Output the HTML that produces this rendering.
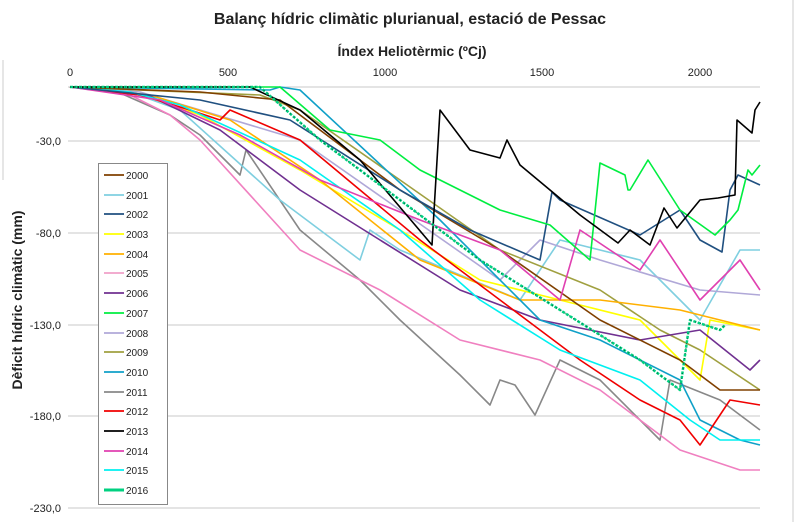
<!DOCTYPE html>
<html><head><meta charset="utf-8"><style>
body{margin:0;background:#fff;width:800px;height:522px;overflow:hidden;font-family:"Liberation Sans",sans-serif}
</style></head><body>
<svg width="800" height="522" viewBox="0 0 800 522" xmlns="http://www.w3.org/2000/svg" font-family="Liberation Sans, sans-serif">
<line x1="793" y1="0" x2="793" y2="522" stroke="#ccc"/>
<line x1="3" y1="60" x2="3" y2="180" stroke="#ccc"/>
<text x="410" y="24" text-anchor="middle" font-size="16" font-weight="bold" fill="#222">Balanç hídric climàtic plurianual, estació de Pessac</text>
<text x="412" y="56" text-anchor="middle" font-size="14" font-weight="bold" fill="#222">Índex Heliotèrmic (ºCj)</text>
<g font-size="11" fill="#222" text-anchor="middle">
<text x="70" y="76">0</text><text x="228" y="76">500</text><text x="385" y="76">1000</text><text x="542" y="76">1500</text><text x="700" y="76">2000</text>
</g>
<g font-size="11" fill="#222" text-anchor="end">
<text x="61" y="145">-30,0</text><text x="61" y="237">-80,0</text><text x="61" y="329">-130,0</text><text x="61" y="420">-180,0</text><text x="61" y="512">-230,0</text>
</g>
<text transform="translate(22,300) rotate(-90)" text-anchor="middle" font-size="14" font-weight="bold" fill="#222">Dèficit hídric climàtic (mm)</text>
<g stroke="#c8c8c8" stroke-width="1">
<line x1="68" y1="87" x2="760" y2="87"/><line x1="68" y1="141" x2="760" y2="141"/><line x1="68" y1="233" x2="760" y2="233"/><line x1="68" y1="325" x2="760" y2="325"/><line x1="68" y1="416" x2="760" y2="416"/><line x1="68" y1="508" x2="760" y2="508"/>
</g>
<g fill="none" stroke-width="1.6" stroke-linejoin="round">
<polyline stroke="#888" points="70,87 120,93 170,115 200,135 240,175 246,150 300,230 360,280 400,320 460,375 490,405 500,380 515,385 535,415 560,360 600,380 660,440 670,380 720,400 760,430"/>
<polyline stroke="#f080c0" points="70,87 130,95 170,115 200,140 300,250 380,290 460,340 540,360 600,390 680,450 740,470 760,470"/>
<polyline stroke="#7fcfe0" points="70,87 130,92 180,110 280,200 360,260 370,230 400,250 520,300 560,240 640,260 700,320 740,250 760,250"/>
<polyline stroke="#b0a8d8" points="70,87 140,92 200,110 300,140 500,280 540,240 600,260 700,290 760,295"/>
<polyline stroke="#a0a040" points="70,87 260,95 300,110 500,250 600,290 660,330 700,350 760,390"/>
<polyline stroke="#ffff00" points="70,87 140,94 200,115 300,170 400,230 480,280 560,300 640,320 700,380 710,320 760,330"/>
<polyline stroke="#ffb000" points="70,87 150,95 230,120 320,180 420,260 520,300 600,300 680,310 760,330"/>
<polyline stroke="#703090" points="70,87 150,96 220,130 300,190 380,240 460,290 540,320 640,340 700,330 750,370 760,360"/>
<polyline stroke="#10a0c8" points="70,87 270,90 280,87 300,90 440,220 540,320 600,340 680,380 700,420 740,440 760,445"/>
<polyline stroke="#f00000" points="70,87 140,95 190,110 220,120 230,110 300,140 420,240 500,300 580,360 640,400 680,420 700,445 730,400 760,405"/>
<polyline stroke="#00f0f0" points="70,87 130,92 180,105 300,160 400,230 480,300 560,350 640,380 690,420 720,440 760,440"/>
<polyline stroke="#804000" points="70,87 200,92 280,100 400,190 500,250 600,320 680,360 720,390 760,390"/>
<polyline stroke="#e040b0" points="70,87 160,100 240,135 320,180 420,220 500,250 560,300 580,230 640,270 660,240 700,300 740,260 760,290"/>
<polyline stroke="#205080" points="70,87 200,100 290,120 400,190 470,230 540,260 552,192 560,200 640,235 680,210 700,240 722,252 730,190 738,175 760,185"/>
<polyline stroke="#00ee40" points="70,87 280,87 330,130 380,140 420,170 460,190 500,210 550,225 590,260 600,163 625,175 628,190 630,190 648,160 680,210 715,235 730,220 738,210 748,170 752,175 760,165"/>
<polyline stroke="#000" points="70,87 250,87 300,110 360,160 432,245 440,110 470,150 500,158 507,140 520,165 580,215 618,243 630,230 650,245 664,208 677,228 700,200 718,198 735,195 737,120 752,133 755,110 760,102"/>
<polyline stroke="#00d080" stroke-width="2.5" stroke-dasharray="3,1.5" points="70,87 260,87 320,140 400,200 480,260 560,310 640,360 680,390 690,320 720,330 725,325"/>
<polyline stroke="#006040" stroke-width="1" stroke-dasharray="1,4" points="70,87 260,87 320,140 400,200 480,260 560,310 640,360 680,390 690,320 720,330 725,325"/>
</g>
<rect x="98.5" y="163.5" width="69" height="341" fill="#fff" stroke="#888"/>
<g font-size="10" fill="#222" stroke-width="1.8">
<line x1="104" x2="124" y1="175" y2="175" stroke="#804000"/><text x="126" y="179">2000</text>
<line x1="104" x2="124" y1="195" y2="195" stroke="#7fcfe0"/><text x="126" y="199">2001</text>
<line x1="104" x2="124" y1="214" y2="214" stroke="#205080"/><text x="126" y="218">2002</text>
<line x1="104" x2="124" y1="234" y2="234" stroke="#ffff00"/><text x="126" y="238">2003</text>
<line x1="104" x2="124" y1="254" y2="254" stroke="#ffb000"/><text x="126" y="258">2004</text>
<line x1="104" x2="124" y1="273" y2="273" stroke="#f0a0c8"/><text x="126" y="277">2005</text>
<line x1="104" x2="124" y1="293" y2="293" stroke="#703090"/><text x="126" y="297">2006</text>
<line x1="104" x2="124" y1="313" y2="313" stroke="#00ee40"/><text x="126" y="317">2007</text>
<line x1="104" x2="124" y1="333" y2="333" stroke="#b0a8d8"/><text x="126" y="337">2008</text>
<line x1="104" x2="124" y1="352" y2="352" stroke="#a0a040"/><text x="126" y="356">2009</text>
<line x1="104" x2="124" y1="372" y2="372" stroke="#10a0c8"/><text x="126" y="376">2010</text>
<line x1="104" x2="124" y1="392" y2="392" stroke="#888"/><text x="126" y="396">2011</text>
<line x1="104" x2="124" y1="411" y2="411" stroke="#f00000"/><text x="126" y="415">2012</text>
<line x1="104" x2="124" y1="431" y2="431" stroke="#000"/><text x="126" y="435">2013</text>
<line x1="104" x2="124" y1="451" y2="451" stroke="#e040b0"/><text x="126" y="455">2014</text>
<line x1="104" x2="124" y1="470" y2="470" stroke="#00f0f0"/><text x="126" y="474">2015</text>
<line x1="104" x2="124" y1="490" y2="490" stroke="#00d080" stroke-width="3"/><text x="126" y="494">2016</text>
</g>
</svg>
</body></html>
